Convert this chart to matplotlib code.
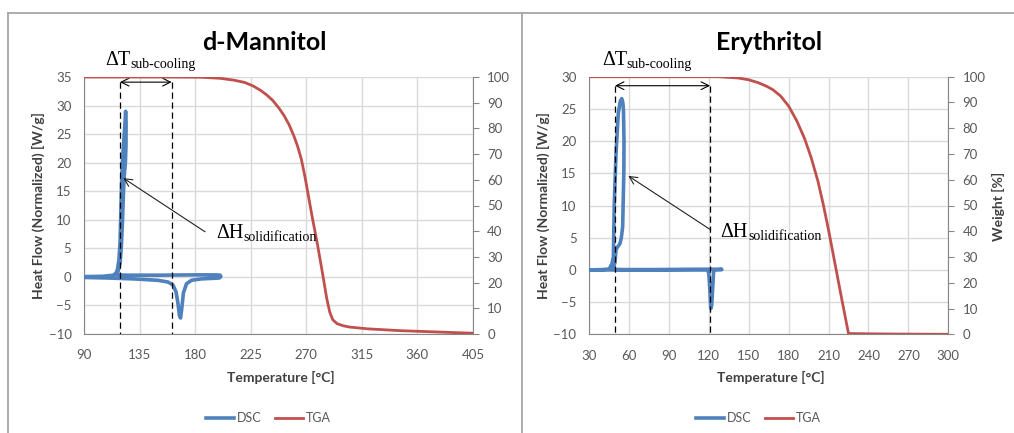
import matplotlib
matplotlib.use('Agg')
import matplotlib.pyplot as plt
from matplotlib.lines import Line2D

plt.rcParams['font.family'] = ['Lato', 'DejaVu Sans']

# d-Mannitol, DSC loop (heating run then cooling run)
man_dsc_t = [90, 110, 130, 150, 158, 162, 164.5, 166, 167.3, 168.2, 169.2, 170.5, 173, 177,
             185, 195, 199.5, 200.8, 200.3, 197, 180, 150, 125, 118, 115.5, 117, 118.3, 119.2,
             119.8, 120.5, 121.3, 122.3, 123.2, 123.7, 124.1, 124.0, 123.5, 122.7, 122.0,
             121.2, 120.3, 119.3, 117.5, 114, 105, 90]
man_dsc_hf = [-0.1, -0.2, -0.35, -0.6, -0.9, -1.4, -2.6, -4.5, -6.8, -7.2, -5.5, -2.8, -1.2, -0.6,
              -0.35, -0.25, -0.2, 0.05, 0.3, 0.35, 0.35, 0.3, 0.3, 0.35, 0.45, 1.2, 3.0, 6.0,
              11, 17, 21, 24, 27, 29, 27, 23, 20, 18, 15,
              10, 5.5, 2.5, 0.9, 0.3, 0.1, 0.05]
man_tga_t = [90, 150, 185, 200, 211, 220, 227, 233, 238, 243, 248, 252, 256, 260, 263, 266,
             269, 272, 275, 279, 283, 286.5, 289, 291.5, 295, 300, 305, 320, 346, 375, 405]
man_tga_w = [100, 100, 99.9, 99.5, 98.8, 97.9, 96.5, 94.8, 93, 90.8, 87.8, 85, 81.5, 77, 73, 68,
             61, 53, 45, 35, 24, 14, 8.5, 5.5, 4, 3.2, 2.7, 2, 1.3, 0.8, 0.3]
man_subcool = [119.1, 161.0]

# Erythritol
ery_dsc_t = [30, 60, 90, 110, 119, 120, 120.8, 121.5, 122.2, 122.9, 123.6, 125, 128.5, 129.8,
             129.3, 126, 110, 80, 55, 47.5, 46, 47.2, 48.3, 49.0, 50.3, 52.0, 53.5, 54.6, 55.4,
             55.9, 56.3, 56.2, 55.3, 54.3, 53.3, 51.3, 50.3, 49.5, 48.3, 46, 40, 30]
ery_dsc_hf = [0, 0, 0, 0, 0, -0.5, -3, -6, -5.5, -3, -0.3, 0, 0, 0.05,
              0.15, 0.1, 0.1, 0.05, 0.05, 0.1, 0.5, 0.9, 2, 10.3, 18.1, 24.3, 26.2, 26.6, 26,
              24.8, 20, 15.5, 6.7, 5, 4.1, 3.5, 3.2, 1.1, 0.4, 0.15, 0.05, 0]
ery_tga_t = [30, 127, 142, 150, 157, 163, 168, 174, 180, 186, 192, 197, 202, 206, 210, 215,
             220, 225, 240, 260, 300]
ery_tga_w = [100, 100, 99.5, 98.8, 97.7, 96.4, 95, 92.5, 88.6, 83, 76, 68.5, 59.5, 50.5, 40.5, 27,
             13.5, 0.3, 0.2, 0.1, 0]
ery_subcool = [49.5, 121.0]

man_xticks = list(range(90, 406, 45))
ery_xticks = list(range(30, 301, 30))

BLUE = '#4F81BD'
RED = '#C0504D'
GRID = '#D9D9D9'
AXC = '#868686'
TXT = '#595959'
W, H = 1014, 433


def px(x, y):
    # pixel position -> figure fraction
    return x / W, 1 - y / H


fig = plt.figure(figsize=(W / 100, H / 100), dpi=100)


def panel(rect, title, cx, t, hf, tt, tw, xticks, ylim, subcool, ytop, head, tail, weight_label):
    ax = fig.add_axes(rect)
    ax.plot(t, hf, color=BLUE, lw=2.6, solid_capstyle='round', solid_joinstyle='round', zorder=3)
    ax.set_xlim(xticks[0], xticks[-1])
    ax.set_ylim(*ylim)
    ax.set_xticks(xticks)
    ax.set_yticks(range(ylim[0], ylim[1] + 1, 5))
    ax.grid(True, color=GRID, lw=1)
    ax.set_axisbelow(True)
    for s in ['top', 'right']:
        ax.spines[s].set_visible(False)
    for s in ['left', 'bottom']:
        ax.spines[s].set_color(AXC)
    ax.tick_params(axis='y', length=0, pad=9, labelsize=9.5, labelcolor=TXT)
    ax.tick_params(axis='x', length=0, pad=11, labelsize=9.5, labelcolor=TXT)

    ax2 = ax.twinx()
    ax2.plot(tt, tw, color=RED, lw=2.0, zorder=2)
    ax2.set_ylim(0, 100)
    ax2.set_yticks(range(0, 101, 10))
    for s in ['top', 'left', 'bottom']:
        ax2.spines[s].set_visible(False)
    ax2.spines['right'].set_color(AXC)
    ax2.tick_params(axis='y', direction='out', length=4.3, color=AXC, pad=6,
                    labelsize=9.5, labelcolor=TXT)

    # sub-cooling marks
    for x in subcool:
        ax.plot([x, x], [ytop, ylim[0]], color='black', lw=0.9, ls=(0, (5, 3)), zorder=4)
    ax.annotate('', xy=(subcool[0], ytop), xytext=(subcool[1], ytop),
                arrowprops=dict(arrowstyle='<->', color='black', lw=0.8, mutation_scale=14,
                                shrinkA=0, shrinkB=0), zorder=5)
    ax.annotate('', xy=head, xytext=tail,
                arrowprops=dict(arrowstyle='->', color='#222222', lw=0.8, mutation_scale=14,
                                shrinkA=0, shrinkB=0), zorder=5)

    fig.text(*px(cx, 43), title, ha='center', va='center', fontsize=18, fontweight='bold')
    x0 = rect[0] * W
    x1 = (rect[0] + rect[2]) * W
    fig.text(*px((x0 + x1) / 2 + 2, 377), 'Temperature [°C]', ha='center', va='center',
             fontsize=10, fontweight='bold', color='#404040')
    fig.text(*px(x0 - 46, 206), 'Heat Flow (Normalized) [W/g]', ha='center', va='center',
             rotation=90, fontsize=10, fontweight='bold', color='#404040')
    if weight_label:
        fig.text(*px(x1 + 50, 206), 'Weight [%]', ha='center', va='center',
                 rotation=90, fontsize=10, fontweight='bold', color='#404040')

    handles = [Line2D([], [], color=BLUE, lw=2.6), Line2D([], [], color=RED, lw=2.0)]
    leg = ax.legend(handles, ['DSC', 'TGA'], loc='center', ncol=2, frameon=False,
                    bbox_to_anchor=px((x0 + x1) / 2 - 10, 418), bbox_transform=fig.transFigure,
                    fontsize=9, handlelength=2.2, handletextpad=0.25, columnspacing=1.1)
    for txt in leg.get_texts():
        txt.set_color(TXT)
    return ax


serif = ['Liberation Serif', 'DejaVu Serif']

panel([84 / W, 1 - 334 / H, 389 / W, 257 / H], 'd-Mannitol', 264,
      man_dsc_t, man_dsc_hf, man_tga_t, man_tga_w, man_xticks, (-10, 35),
      man_subcool, 34.1, (121.8, 17.3), (188.0, 7.9), False)
fig.text(*px(105, 65), 'ΔT', family=serif, fontsize=14.5, va='baseline')
fig.text(*px(130, 68), 'sub-cooling', family=serif, fontsize=10, va='baseline')
fig.text(*px(216, 238), 'ΔH', family=serif, fontsize=14.5, va='baseline')
fig.text(*px(243, 241), 'solidification', family=serif, fontsize=10, va='baseline')

panel([589 / W, 1 - 334.3 / H, 359.3 / W, 257.6 / H], 'Erythritol', 769,
      ery_dsc_t, ery_dsc_hf, ery_tga_t, ery_tga_w, ery_xticks, (-10, 30),
      ery_subcool, 28.6, (59.5, 14.6), (120.9, 6.3), True)
fig.text(*px(602, 65), 'ΔT', family=serif, fontsize=14.5, va='baseline')
fig.text(*px(626, 68), 'sub-cooling', family=serif, fontsize=10, va='baseline')
fig.text(*px(720, 237), 'ΔH', family=serif, fontsize=14.5, va='baseline')
fig.text(*px(748, 240), 'solidification', family=serif, fontsize=10, va='baseline')

# chart-area borders
bc = '#A6A6A6'
fig.add_artist(Line2D([8 / W, 8 / W], [0, 1 - 13 / H], color=bc, lw=1.3))
fig.add_artist(Line2D([8 / W, 1], [1 - 13 / H, 1 - 13 / H], color=bc, lw=1.3))
fig.add_artist(Line2D([521.5 / W, 521.5 / W], [0, 1 - 13 / H], color=bc, lw=1.3))

fig.savefig('out.png', dpi=100)
